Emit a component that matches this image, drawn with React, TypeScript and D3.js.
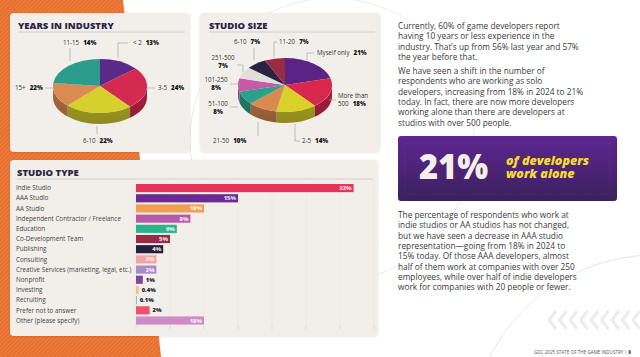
import React from 'react';
import * as d3 from 'd3';

// ---------- DATA ----------
const yearsLabels = ['< 2', '3-5', '6-10', '11-15', '15+'];
const yearsValues = [13, 24, 22, 14, 22];
const yearsColors = ['#5B2A88', '#D52A50', '#D7CF2C', '#D98B52', '#2A9C8C'];

const sizeLabels = ['Myself only', 'More than 500', '2-5', '21-50', '51-100', '101-250', '251-500', '6-10', '11-20'];
const sizeValues = [21, 18, 14, 10, 8, 8, 7, 7, 7];
const sizeColors = ['#5B2386', '#D8284E', '#D9D02A', '#D98A4E', '#2BA08A', '#C45AA8', '#E2DEDA', '#2A2344', '#9A2B45'];

const typeCategories = [
  'Indie Studio',
  'AAA Studio',
  'AA Studio',
  'Independent Contractor / Freelance',
  'Education',
  'Co-Development Team',
  'Publishing',
  'Consulting',
  'Creative Services (marketing, legal, etc.)',
  'Nonprofit',
  'Investing',
  'Recruiting',
  'Prefer not to answer',
  'Other (please specify)',
];
const typeValues = [32, 15, 10, 8, 6, 5, 4, 3, 3, 1, 0.4, 0.1, 2, 10];
const typeColors = ['#E8325A', '#6A2A8F', '#F0A050', '#B85AA8', '#2DB38A', '#9A2A45', '#262040', '#F4A3A0', '#A88BC8', '#7A4A9A', '#F2C090', '#6ED0C0', '#F0506A', '#D08AC8'];
const typeTicks = [0, 5, 10, 15, 20, 25, 30, 35];

const para1 = [
  'Currently, 60% of game developers report',
  'having 10 years or less experience in the',
  'industry. That\u2019s up from 56% last year and 57%',
  'the year before that.',
];
const para2 = [
  'We have seen a shift in the number of',
  'respondents who are working as solo',
  'developers, increasing from 18% in 2024 to 21%',
  'today. In fact, there are now more developers',
  'working alone than there are developers at',
  'studios with over 500 people.',
];
const para3 = [
  'The percentage of respondents who work at',
  'indie studios or AA studios has not changed,',
  'but we have seen a decrease in AAA studio',
  'representation\u2014going from 18% in 2024 to',
  '15% today. Of those AAA developers, almost',
  'half of them work at companies with over 250',
  'employees, while over half of indie developers',
  'work for companies with 20 people or fewer.',
];

// ---------- LAYOUT ----------
const FONT = "'Open Sans', 'DejaVu Sans', sans-serif";
const DARK = '#2B2545';

type LabelLayout = { x: number; y: number; anchor?: 'start' | 'middle'; breakAt?: number; leader: number[][] };

const yearsLabelLayout: LabelLayout[] = [
  { x: 133, y: 45, leader: [[128, 43], [118, 43], [118, 58]] },
  { x: 158, y: 90, leader: [[147, 88], [155, 88]] },
  { x: 83, y: 143, leader: [[97, 126], [97, 134]] },
  { x: 63, y: 45, leader: [[70, 48], [70, 61]] },
  { x: 15, y: 90, leader: [[45, 88], [53, 88]] },
];

const sizeLabelLayout: LabelLayout[] = [
  { x: 317, y: 55, leader: [[314, 53], [307, 53], [307, 60]] },
  { x: 338, y: 98, breakAt: 2, leader: [[329, 100], [336, 100]] },
  { x: 302, y: 143, leader: [[300, 141], [295, 141], [295, 124]] },
  { x: 213, y: 143, leader: [[258, 122], [258, 136]] },
  { x: 218, y: 106, anchor: 'middle', breakAt: 1, leader: [[230, 107], [238, 107]] },
  { x: 216, y: 82, anchor: 'middle', breakAt: 1, leader: [[230, 84], [238, 84]] },
  { x: 223, y: 60, anchor: 'middle', breakAt: 1, leader: [[237, 65], [243, 65], [243, 72]] },
  { x: 234, y: 44, leader: [[254, 48], [254, 60]] },
  { x: 279, y: 44, leader: [[277, 42], [274, 42], [274, 57]] },
];

function Pie3D({ cx, cy, rx, ry, depth, values, colors }: any) {
  const arcs = d3.pie<number>().sort(null).value((d) => d)(values);
  const pt = (a: number, dy = 0) => `${cx + rx * Math.sin(a)},${cy - ry * Math.cos(a) + dy}`;
  const sides: any[] = [];
  const tops: any[] = [];
  arcs.forEach((a, i) => {
    const s0 = Math.max(a.startAngle, Math.PI / 2);
    const s1 = Math.min(a.endAngle, (3 * Math.PI) / 2);
    if (s1 > s0) {
      const large = s1 - s0 > Math.PI ? 1 : 0;
      const d = `M${pt(s0)}A${rx},${ry} 0 ${large} 1 ${pt(s1)}L${pt(s1, depth)}A${rx},${ry} 0 ${large} 0 ${pt(s0, depth)}Z`;
      const c = d3.color(colors[i])!.darker(0.7).toString();
      sides.push(<path key={'s' + i} d={d} fill={c} />);
    }
    const large = a.endAngle - a.startAngle > Math.PI ? 1 : 0;
    const d = `M${cx},${cy}L${pt(a.startAngle)}A${rx},${ry} 0 ${large} 1 ${pt(a.endAngle)}Z`;
    tops.push(<path key={'t' + i} d={d} fill={colors[i]} />);
  });
  return (
    <g>
      {sides}
      <path
        d={`M${pt(Math.PI / 2)}A${rx},${ry} 0 0 1 ${pt((3 * Math.PI) / 2)}L${pt((3 * Math.PI) / 2, depth)}A${rx},${ry} 0 0 0 ${pt(Math.PI / 2, depth)}Z`}
        fill="url(#sideShade)"
      />
      {tops}
    </g>
  );
}

function PieLabels({ labels, values, layout }: { labels: string[]; values: number[]; layout: LabelLayout[] }) {
  return (
    <g fontFamily={FONT} fontSize={6.2} fill="#333">
      {labels.map((lab, i) => {
        const L = layout[i];
        const line = d3.line()(L.leader as [number, number][]) || '';
        const pct = `${values[i]}%`;
        let content;
        if (L.breakAt !== undefined) {
          const words = lab.split(' ');
          const l1 = words.slice(0, L.breakAt).join(' ');
          const rest = words.slice(L.breakAt).join(' ');
          content = (
            <text x={L.x} y={L.y} textAnchor={L.anchor || 'start'}>
              <tspan>{l1}</tspan>
              <tspan x={L.x} dy={8}>
                {rest ? <tspan>{rest}</tspan> : null}
                <tspan dx={rest ? 4 : 0} fontWeight={800} fill="#111">{pct}</tspan>
              </tspan>
            </text>
          );
        } else {
          content = (
            <text x={L.x} y={L.y} textAnchor={L.anchor || 'start'}>
              <tspan>{lab}</tspan>
              <tspan dx={4} fontWeight={800} fill="#111">{pct}</tspan>
            </text>
          );
        }
        return (
          <g key={i}>
            <path d={line} fill="none" stroke="#9a9a9a" strokeWidth={0.6} />
            {content}
          </g>
        );
      })}
    </g>
  );
}

function Panel({ x, y, w, h }: any) {
  return <rect x={x} y={y} width={w} height={h} rx={4} fill="#F2EFEB" filter="url(#shadow)" />;
}

function Title({ x, y, x2, text }: any) {
  return (
    <g>
      <text x={x} y={y} fontFamily={FONT} fontWeight={800} fontSize={9.5} fill={DARK}>{text}</text>
      <line x1={x} x2={x2} y1={y + 3.5} y2={y + 3.5} stroke="#c9c4be" strokeWidth={0.8} />
    </g>
  );
}

export default function App() {
  const xScale = d3.scaleLinear().domain([0, 35]).range([136, 374]);
  const yScale = d3.scaleBand<string>().domain(typeCategories).range([183, 325.6]).paddingInner(0.2).paddingOuter(0.1);

  const chevrons = d3.range(9);

  return (
    <svg width={640} height={357} style={{ position: 'absolute', left: 0, top: 0, background: '#fff' }}>
      <defs>
        <pattern id="hatch" width={3} height={3} patternUnits="userSpaceOnUse" patternTransform="rotate(45)">
          <rect width={3} height={3} fill="#E7702F" />
          <line x1={0} y1={0} x2={0} y2={3} stroke="#F08B52" strokeWidth={1.2} />
        </pattern>
        <linearGradient id="purpleBox" x1="0" y1="0" x2="0" y2="1">
          <stop offset="0" stopColor="#5E2692" />
          <stop offset="1" stopColor="#3B215C" />
        </linearGradient>
        <linearGradient id="sideShade" x1="0" y1="0" x2="0" y2="1">
          <stop offset="0" stopColor="#000" stopOpacity={0} />
          <stop offset="1" stopColor="#000" stopOpacity={0.15} />
        </linearGradient>
        <filter id="shadow" x="-5%" y="-5%" width="110%" height="110%">
          <feDropShadow dx={0} dy={0.5} stdDeviation={0.8} floodColor="#000" floodOpacity={0.12} />
        </filter>
      </defs>

      {/* decorative background */}
      <polygon points="0,0 123,0 161,357 0,357" fill="url(#hatch)" />
      <circle cx={332} cy={140} r={142} fill="none" stroke="#ececec" strokeWidth={1} />
      <circle cx={655} cy={440} r={185} fill="none" stroke="#e8e8e8" strokeWidth={1} />
      <g stroke="#ececec" strokeWidth={3} fill="none">
        {chevrons.map((i) => (
          <polyline key={i} points={`${556 + i * 10.5},${311} ${549 + i * 10.5},${320} ${556 + i * 10.5},${329}`} />
        ))}
      </g>

      {/* Years in industry */}
      <Panel x={10} y={13} w={180} h={139} />
      <Title x={18} y={28.5} x2={185} text="YEARS IN INDUSTRY" />
      <Pie3D cx={100} cy={86} rx={47} ry={27} depth={11} values={yearsValues} colors={yearsColors} />
      <PieLabels labels={yearsLabels} values={yearsValues} layout={yearsLabelLayout} />

      {/* Studio size */}
      <Panel x={200} y={13} w={180} h={139} />
      <Title x={209} y={28.5} x2={375} text="STUDIO SIZE" />
      <Pie3D cx={285} cy={85} rx={47} ry={27} depth={11} values={sizeValues} colors={sizeColors} />
      <PieLabels labels={sizeLabels} values={sizeValues} layout={sizeLabelLayout} />

      {/* Studio type */}
      <Panel x={10} y={160} w={368} h={176} />
      <Title x={17} y={175.5} x2={373} text="STUDIO TYPE" />
      <g>
        {typeTicks.map((t) => (
          <g key={t}>
            <line x1={xScale(t)} x2={xScale(t)} y1={182} y2={328} stroke="#e4e0db" strokeWidth={0.5} />
            <line x1={xScale(t)} x2={xScale(t)} y1={326} y2={330} stroke="#d6d1cb" strokeWidth={0.6} />
          </g>
        ))}
      </g>
      <g fontFamily={FONT}>
        {typeCategories.map((c, i) => {
          const y = yScale(c)!;
          const bw = yScale.bandwidth();
          const v = typeValues[i];
          const w = Math.max(xScale(v) - xScale(0), 1);
          const inside = v >= 2.5;
          return (
            <g key={c}>
              <text x={16} y={y + bw / 2 + 2.2} fontSize={6.3} fill="#444">{c}</text>
              <rect x={xScale(0)} y={y} width={w} height={bw} fill={typeColors[i]} />
              {inside ? (
                <text x={xScale(v) - 2} y={y + bw / 2 + 2} fontSize={5.8} fontWeight={800} textAnchor="end" fill="#fff" fillOpacity={0.85}>{`${v}%`}</text>
              ) : (
                <text x={xScale(v) + 3} y={y + bw / 2 + 2} fontSize={5.8} fontWeight={800} fill="#1a1a2a">{`${v}%`}</text>
              )}
            </g>
          );
        })}
      </g>

      {/* Right text */}
      <g fontFamily={FONT} fontSize={8.3} fill="#3a3a3a">
        {para1.map((l, i) => (
          <text key={'a' + i} x={398} y={29 + i * 10.3}>{l}</text>
        ))}
        {para2.map((l, i) => (
          <text key={'b' + i} x={398} y={74 + i * 10.3}>{l}</text>
        ))}
        {para3.map((l, i) => (
          <text key={'c' + i} x={398} y={218 + i * 10.3}>{l}</text>
        ))}
      </g>

      {/* 21% box */}
      <rect x={398} y={136} width={219} height={65} rx={3} fill="url(#purpleBox)" />
      <rect x={405} y={143} width={205} height={51} fill="none" stroke="#ffffff" strokeOpacity={0.12} strokeWidth={0.6} strokeDasharray="1 1.5" />
      <text x={419} y={179} fontFamily={FONT} fontWeight={800} fontSize={36} textLength={69} lengthAdjust="spacingAndGlyphs" fill="#F4EFE8">21%</text>
      <g fontFamily={FONT} fontWeight={800} fontStyle="italic" fontSize={12.5} fill="#F3DC2E">
        <text x={506} y={165}>of developers</text>
        <text x={506} y={178}>work alone</text>
      </g>

      {/* footer */}
      <text x={631} y={354} textAnchor="end" fontFamily={FONT} fontSize={4.6} fill="#555">
        GDC 2025 STATE OF THE GAME INDUSTRY  |  <tspan fontWeight={800}>9</tspan>
      </text>
    </svg>
  );
}
